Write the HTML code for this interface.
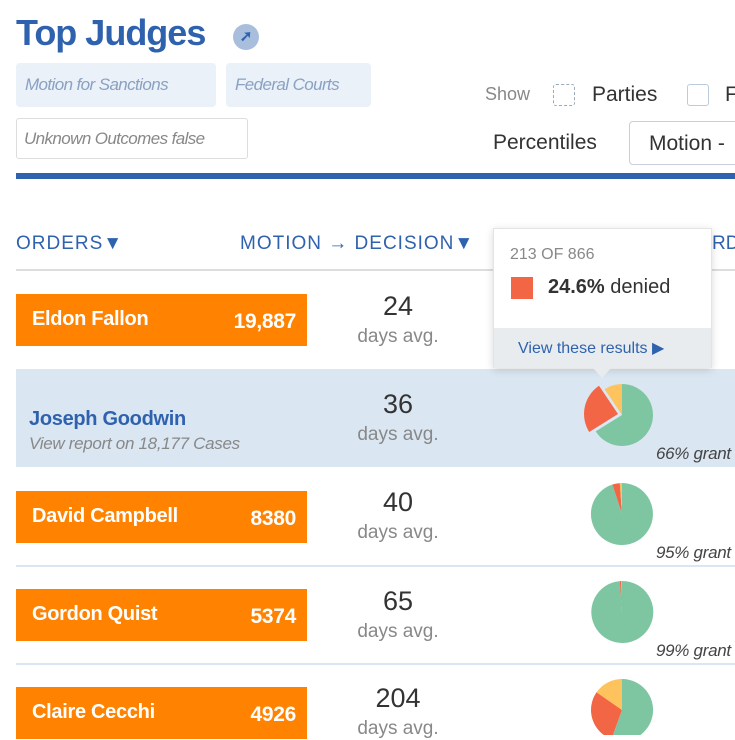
<!DOCTYPE html>
<html><head><meta charset="utf-8"><style>
*{margin:0;padding:0;box-sizing:border-box}
body{width:735px;height:735px;overflow:hidden;background:#fff;font-family:"Liberation Sans",sans-serif;position:relative}
.a{position:absolute;white-space:nowrap}
.bar{position:absolute;left:16px;width:291px;height:52px;background:#ff8200;color:#fff;font-weight:bold;font-size:20px;letter-spacing:-0.3px}
.bar .n{position:absolute;left:16px;top:14px}
.bar .c{position:absolute;right:11px;top:16px;font-size:21px}
.num{position:absolute;width:120px;left:338px;text-align:center;color:#333;font-size:27px}
.days{position:absolute;width:120px;left:338px;text-align:center;color:#888;font-size:19px}
.gr{position:absolute;left:656px;color:#444;font-style:italic;font-size:17px;letter-spacing:-0.3px}
.chip{position:absolute;background:#eaf1f9;color:#8aa1c1;font-style:italic;font-size:17px;letter-spacing:-0.6px;border-radius:4px;white-space:nowrap;padding:12px 9px}
</style></head><body>
<div class="a" style="left:16px;top:12px;font-size:36px;font-weight:bold;color:#2f62ae;letter-spacing:-1px">Top Judges</div>
<div class="a" style="left:233px;top:24px;width:26px;height:26px;border-radius:50%;background:#a9bedc;color:#2f62ae;font-size:15px;text-align:center;line-height:26px;font-weight:bold">➚</div>
<div class="chip" style="left:16px;top:63px;width:200px;height:44px">Motion for Sanctions</div>
<div class="chip" style="left:226px;top:63px;width:145px;height:44px">Federal Courts</div>
<div class="a" style="left:16px;top:118px;width:232px;height:41px;border:1px solid #ddd;border-radius:3px;color:#888;font-style:italic;font-size:17px;letter-spacing:-0.6px;padding:10px 7px">Unknown Outcomes false</div>
<div class="a" style="left:485px;top:84px;color:#888;font-size:18px">Show</div>
<div class="a" style="left:553px;top:84px;width:22px;height:22px;border:1px dashed #9ab;border-radius:3px"></div>
<div class="a" style="left:592px;top:83px;color:#333;font-size:21px">Parties</div>
<div class="a" style="left:687px;top:84px;width:22px;height:22px;border:1px solid #bcd;border-radius:3px"></div>
<div class="a" style="left:725px;top:83px;color:#333;font-size:21px">F</div>
<div class="a" style="left:493px;top:131px;color:#333;font-size:21px">Percentiles</div>
<div class="a" style="left:629px;top:121px;width:120px;height:44px;border:1px solid #ccd;border-radius:4px;color:#333;font-size:21px;padding:10px 19px">Motion -</div>
<div class="a" style="left:16px;top:173px;width:719px;height:6px;background:#2f62ae"></div>
<div class="a" style="left:16px;top:233px;color:#2f62ae;font-size:19px;letter-spacing:1px">ORDERS▼</div>
<div class="a" style="left:240px;top:233px;color:#2f62ae;font-size:19px;letter-spacing:1px">MOTION → DECISION▼</div>
<div class="a" style="left:712px;top:233px;color:#2f62ae;font-size:19px">RD</div>
<div class="a" style="left:16px;top:269px;width:719px;height:2px;background:#ddd"></div>
<div class="a" style="left:16px;top:369px;width:719px;height:98px;background:#dae6f1"></div>
<div class="a" style="left:16px;top:565px;width:719px;height:2px;background:#dae6f1"></div>
<div class="a" style="left:16px;top:663px;width:719px;height:2px;background:#dae6f1"></div>

<div class="bar" style="top:294px"><span class="n">Eldon Fallon</span><span class="c">19,887</span></div>
<div class="a" style="left:29px;top:408px;color:#2f62ae;font-size:20px;font-weight:bold;letter-spacing:-0.3px">Joseph Goodwin</div>
<div class="a" style="left:29px;top:434px;color:#888;font-style:italic;font-size:17px;letter-spacing:-0.3px">View report on 18,177 Cases</div>
<div class="bar" style="top:491px"><span class="n">David Campbell</span><span class="c">8380</span></div>
<div class="bar" style="top:589px"><span class="n">Gordon Quist</span><span class="c">5374</span></div>
<div class="bar" style="top:687px"><span class="n">Claire Cecchi</span><span class="c">4926</span></div>

<div class="num" style="top:291px">24</div><div class="days" style="top:326px">days avg.</div>
<div class="num" style="top:389px">36</div><div class="days" style="top:424px">days avg.</div>
<div class="num" style="top:487px">40</div><div class="days" style="top:522px">days avg.</div>
<div class="num" style="top:586px">65</div><div class="days" style="top:621px">days avg.</div>
<div class="num" style="top:683px">204</div><div class="days" style="top:718px">days avg.</div>

<div class="gr" style="top:346px">grant</div>
<div class="gr" style="top:444px">66% grant</div>
<div class="gr" style="top:543px">95% grant</div>
<div class="gr" style="top:641px">99% grant</div>

<svg class="a" style="left:0;top:0" width="735" height="735">
<path d="M622,415 L622,384 A31,31 0 1 1 595.7,431.4 Z" fill="#7ec6a2"/>
<path d="M618,414 L589.2,432.0 A34,34 0 0 1 599.0,385.8 Z" fill="#f26545"/>
<path d="M622,415 L604.7,389.3 A31,31 0 0 1 622,384 Z" fill="#fec35c"/>
<path d="M622,514 L622,483 A31,31 0 1 1 612.4,484.5 Z" fill="#7ec6a2"/>
<path d="M622,514 L612.4,484.5 A31,31 0 0 1 619.8,483.1 Z" fill="#f26545"/>
<path d="M622,514 L619.8,483.1 A31,31 0 0 1 622,483 Z" fill="#fec35c"/>
<path d="M622,612 L622,581 A31,31 0 1 1 619.8,581.1 Z" fill="#7ec6a2"/>
<path d="M622,612 L619.8,581.1 A31,31 0 0 1 621.5,581 Z" fill="#f26545"/>
<path d="M622,710 L622,679 A31,31 0 1 1 611.4,739.1 Z" fill="#7ec6a2"/>
<path d="M622,710 L611.4,739.1 A31,31 0 0 1 596.6,692.2 Z" fill="#f26545"/>
<path d="M622,710 L596.6,692.2 A31,31 0 0 1 622,679 Z" fill="#fec35c"/>
</svg>

<div class="a" style="left:493px;top:228px;width:219px;height:140px;background:#fff;border:1px solid #e4e4e4;box-shadow:0 2px 8px rgba(0,0,0,0.15)">
<div class="a" style="left:16px;top:17px;color:#888;font-size:16px">213 OF 866</div>
<div class="a" style="left:17px;top:48px;width:22px;height:22px;background:#f26545"></div>
<div class="a" style="left:54px;top:47px;color:#333;font-size:20px"><b>24.6%</b> denied</div>
<div class="a" style="left:0;top:99px;width:217px;height:40px;background:#e8ecee;color:#2f62ae;font-size:16px;padding:10px 0 0 24px">View these results ▶</div>
</div>
<div class="a" style="left:593px;top:368px;width:0;height:0;border-left:9px solid transparent;border-right:9px solid transparent;border-top:10px solid #e8ecee"></div>
</body></html>
